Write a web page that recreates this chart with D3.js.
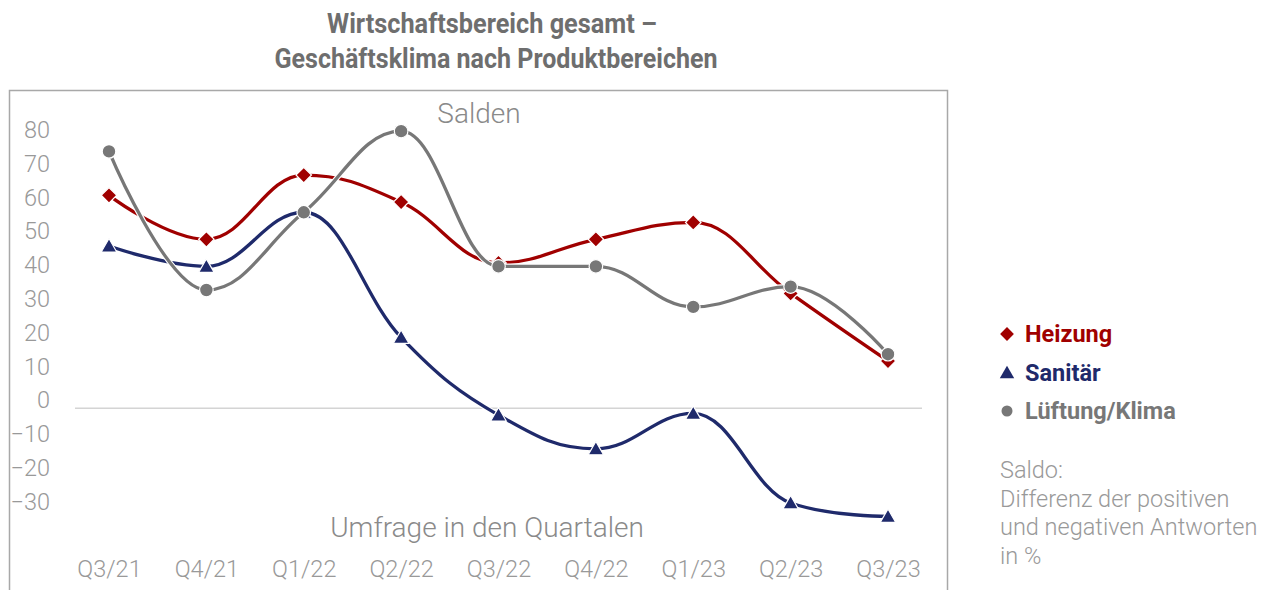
<!DOCTYPE html>
<html>
<head>
<meta charset="utf-8">
<script src="https://cdn.jsdelivr.net/npm/d3@7"></script>
<style>
  body { margin: 0; background: #fff; }
  text { font-family: Roboto, "Noto Sans", sans-serif; }
</style>
</head>
<body>
<div id="chart"></div>
<script>
let width = 1277
let height = 590

// -- data
let quarters = ['Q3/21', 'Q4/21', 'Q1/22', 'Q2/22', 'Q3/22', 'Q4/22', 'Q1/23', 'Q2/23', 'Q3/23']
let heizung = [63, 50, 69, 61, 43, 50, 55, 34, 14]
let sanitaer = [48, 42, 58, 21, -2, -12, -1.5, -28, -32]
let lueftung = [76, 35, 58, 82, 42, 42, 30, 36, 16]
let yTicks = [80, 70, 60, 50, 40, 30, 20, 10, 0, -10, -20, -30]
let seriesNames = ['Heizung', 'Sanitär', 'Lüftung/Klima']
let seriesColors = ['#a00000', '#1f2a6b', '#777777']
let noteLines = ['Saldo:', 'Differenz der positiven', 'und negativen Antworten', 'in %']

let svg = d3.select('#chart')
            .append('svg')
            .attr('width', width)
            .attr('height', height)

// title
svg.append('text')
   .attr('x', 492).attr('y', 33)
   .attr('text-anchor', 'middle')
   .attr('font-size', 28).attr('font-weight', 700)
   .attr('fill', '#6e6e6e')
   .attr('textLength', 330).attr('lengthAdjust', 'spacingAndGlyphs')
   .text('Wirtschaftsbereich gesamt –')
svg.append('text')
   .attr('x', 496).attr('y', 68)
   .attr('text-anchor', 'middle')
   .attr('font-size', 28).attr('font-weight', 700)
   .attr('fill', '#6e6e6e')
   .attr('textLength', 443).attr('lengthAdjust', 'spacingAndGlyphs')
   .text('Geschäftsklima nach Produktbereichen')

// frame
svg.append('rect')
   .attr('x', 9.5).attr('y', 90.5)
   .attr('width', 938).attr('height', 530)
   .attr('fill', 'none')
   .attr('stroke', '#a8a8a8')
   .attr('stroke-width', 1.5)

// -- scales
let xScale = d3.scalePoint()
               .domain(quarters)
               .range([109, 888])
let yScale = d3.scaleLinear()
               .domain([0, 80])
               .range([408.3, 408.3 - 80 * 3.38])

// y axis (labels only)
let yAxis = d3.axisLeft(yScale).tickValues(yTicks).tickSize(0).tickPadding(0)
let yG = svg.append('g')
            .attr('transform', 'translate(50, -8)')
            .call(yAxis)
yG.select('.domain').remove()
yG.selectAll('text')
  .attr('font-family', 'Roboto').attr('font-weight', 300)
  .attr('font-size', 23.5).attr('fill', '#999')

// x axis (labels only)
let xAxis = d3.axisBottom(xScale).tickSize(0).tickPadding(0)
let xG = svg.append('g')
            .attr('transform', 'translate(0, 560)')
            .call(xAxis)
xG.select('.domain').remove()
xG.selectAll('text')
  .attr('font-family', 'Roboto').attr('font-weight', 300)
  .attr('font-size', 23.5).attr('fill', '#999')

// zero line
svg.append('line')
   .attr('x1', 75).attr('x2', 922)
   .attr('y1', yScale(0)).attr('y2', yScale(0))
   .attr('stroke', '#d4d4d4').attr('stroke-width', 1.5)

// in-plot labels
svg.append('text')
   .attr('x', 479).attr('y', 123)
   .attr('text-anchor', 'middle')
   .attr('font-size', 28).attr('font-weight', 300).attr('fill', '#8a8a8a')
   .text('Salden')
svg.append('text')
   .attr('x', 487).attr('y', 537)
   .attr('text-anchor', 'middle')
   .attr('font-size', 28).attr('font-weight', 300).attr('fill', '#8a8a8a')
   .text('Umfrage in den Quartalen')

// spline like the original tool draws it: long control arms, no false extremes
function splinePath(values) {
  let xs = quarters.map((q) => xScale(q))
  let ys = values.map((v) => yScale(v))
  let n = xs.length
  let ctrl = xs.map((x, i) => {
    if (i == 0 || i == n - 1) return { lx: x, ly: ys[i], rx: x, ry: ys[i] }
    let s = 1.5, den = s + 1
    let lx = (s * x + xs[i - 1]) / den, ly = (s * ys[i] + ys[i - 1]) / den
    let rx = (s * x + xs[i + 1]) / den, ry = (s * ys[i] + ys[i + 1]) / den
    let corr = (ry - ly) * (rx - x) / (rx - lx) + ys[i] - ry
    ly += corr; ry += corr
    if (ly > ys[i - 1] && ly > ys[i]) { ly = Math.max(ys[i - 1], ys[i]); ry = 2 * ys[i] - ly }
    else if (ly < ys[i - 1] && ly < ys[i]) { ly = Math.min(ys[i - 1], ys[i]); ry = 2 * ys[i] - ly }
    if (ry > ys[i + 1] && ry > ys[i]) { ry = Math.max(ys[i + 1], ys[i]); ly = 2 * ys[i] - ry }
    else if (ry < ys[i + 1] && ry < ys[i]) { ry = Math.min(ys[i + 1], ys[i]); ly = 2 * ys[i] - ry }
    return { lx: lx, ly: ly, rx: rx, ry: ry }
  })
  let p = d3.path()
  p.moveTo(xs[0], ys[0])
  for (let i = 1; i < n; i++) {
    p.bezierCurveTo(ctrl[i - 1].rx, ctrl[i - 1].ry, ctrl[i].lx, ctrl[i].ly, xs[i], ys[i])
  }
  return p.toString()
}

function markerPath(s, big) {
  if (s == 0) return d3.symbol().type(d3.symbolSquare).size(big ? 120 : 95)()
  if (s == 1) return d3.symbol().type(d3.symbolTriangle).size(big ? 105 : 90)()
  return d3.symbol().type(d3.symbolCircle).size(big ? 145 : 95)()
}

// -- lines and markers
let allSeries = [heizung, sanitaer, lueftung]
// draw Sanitär first, grey last so it sits on top like the picture
let drawOrder = [1, 0, 2]
drawOrder.forEach((s) => {
  svg.append('path')
     .attr('d', splinePath(allSeries[s]))
     .attr('fill', 'none')
     .attr('stroke', '#fff')
     .attr('stroke-width', 5.5)
  svg.append('path')
     .attr('d', splinePath(allSeries[s]))
     .attr('fill', 'none')
     .attr('stroke', seriesColors[s])
     .attr('stroke-width', 3.3)
  svg.selectAll('.m' + s)
     .data(allSeries[s])
     .enter()
     .append('path')
     .attr('class', 'm' + s)
     .attr('d', markerPath(s, true))
     .attr('transform', (d, i) => 'translate(' + xScale(quarters[i]) + ',' + (yScale(d) + (s == 1 ? 1.5 : 0)) + ')' + (s == 0 ? ' rotate(45)' : ''))
     .attr('fill', seriesColors[s])
     .attr('stroke', '#fff')
     .attr('stroke-width', 1.2)
})

// -- legend
let legendY = [334, 373, 411]
seriesNames.forEach((name, i) => {
  svg.append('path')
     .attr('d', markerPath(i, false))
     .attr('transform', 'translate(1007,' + (legendY[i] + (i == 1 ? 1 : 0)) + ')' + (i == 0 ? ' rotate(45)' : ''))
     .attr('fill', seriesColors[i])
  svg.append('text')
     .attr('x', 1025).attr('y', legendY[i] + 8)
     .attr('font-size', 23.5).attr('font-weight', 700)
     .attr('fill', seriesColors[i])
     .text(name)
})

// note
noteLines.forEach((t, i) => {
  svg.append('text')
     .attr('x', 1000).attr('y', 478 + i * 28.5)
     .attr('font-size', 23.5).attr('font-weight', 300)
     .attr('fill', '#999')
     .text(t)
})
</script>
</body>
</html>
